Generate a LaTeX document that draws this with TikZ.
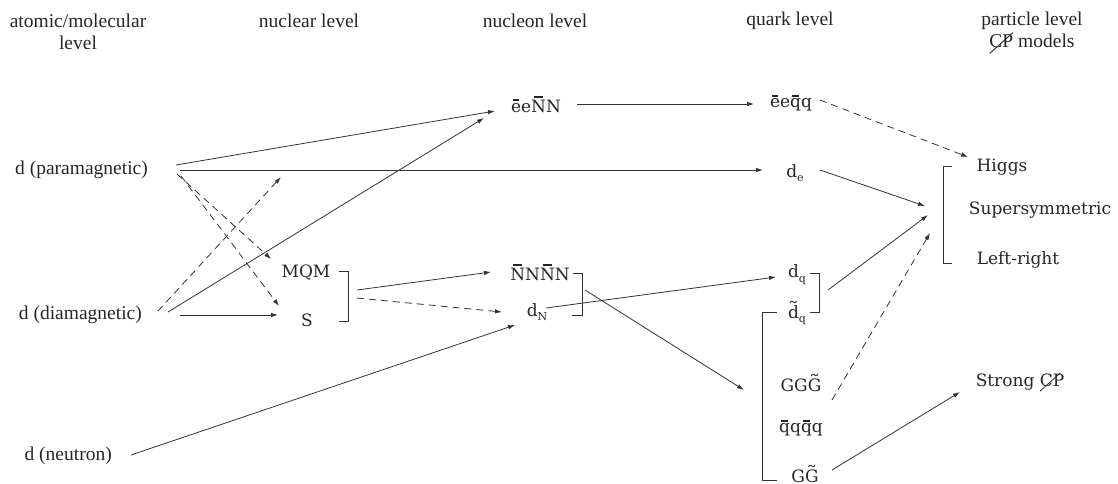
\documentclass[tikz,border=0pt]{standalone}
\usepackage{fontspec}
\setmainfont{Liberation Serif}
\newfontfamily\innerfont{DejaVu Serif}
\usetikzlibrary{arrows.meta}
\newcommand\ob[1]{\setbox0\hbox{#1}\makebox[0pt][l]{\hbox to\wd0{\hss\raisebox{\dimexpr\ht0+0.12em\relax}{\rule{0.6\wd0}{0.12em}}\hss}}\box0}
\newcommand\tl[1]{\setbox0\hbox{#1}\makebox[0pt][l]{\hbox to\wd0{\hss\raisebox{\dimexpr\ht0-1ex\relax}{\scalebox{1.3}[1]{\char"02DC}}\hss}}\box0}
\newcommand\sbs[1]{\raisebox{-0.28em}{\fontsize{11}{11}\selectfont #1}}
\newcommand\slcp{\makebox[0pt][l]{\raisebox{-0.3em}{\rotatebox{42}{\rule{1.6em}{0.045em}}}}CP}
\begin{document}
\begin{tikzpicture}[x=1pt,y=-1pt,
  hdr/.style={font=\fontsize{19.5}{22}\selectfont, inner sep=0pt, text=black!85},
  lbl/.style={font=\innerfont\fontsize{17}{20}\selectfont, inner sep=0pt, text=black!85},
  arr/.style={-{Latex[length=7pt,width=4.5pt]}, line width=0.8pt, draw=black!80},
  dsh/.style={arr, dash pattern=on 7pt off 5pt},
  brk/.style={line width=0.9pt, draw=black!80}]
\useasboundingbox (0,0) rectangle (1118,483);
% headers
\node[hdr] (hA1) at (78,21) {atomic/molecular};
\node[hdr] (hA2) at (78,43) {level};
\node[hdr] (hB) at (309,21) {nuclear level};
\node[hdr] (hC) at (535,21) {nucleon level};
\node[hdr] (hD) at (790,21) {quark level};
\node[hdr] (hE1) at (1032,21) {particle level};
\node[hdr] (hE2) at (1032,43) {\slcp{} models};
% left labels
\node[hdr, anchor=east] (para) at (148,170) {d (paramagnetic)};
\node[hdr, anchor=east] (dia) at (142,315) {d (diamagnetic)};
\node[hdr, anchor=east] (neu) at (112,456) {d (neutron)};
% nuclear
\node[lbl] (mqm) at (306,273) {MQM};
\node[lbl] (S) at (307,320) {S};
% nucleon
\node[lbl] (eeNN) at (536,104) {\ob{e}e\ob{N}N};
\node[lbl] (NNNN) at (540,272) {\ob{N}N\ob{N}N};
\node[lbl] (dN) at (537,312) {d\sbs{N}};
% quark
\node[lbl] (eeqq) at (791,103) {\ob{e}e\ob{q}q};
\node[lbl] (de) at (795,173) {d\sbs{e}};
\node[lbl] (dq) at (797,275) {d\sbs{q}};
\node[lbl] (dtq) at (797,313) {\tl{d}\sbs{q}};
\node[lbl] (GGG) at (801,383) {GG\tl{G}};
\node[lbl] (qqqq) at (801,428) {\ob{q}q\ob{q}q};
\node[lbl] (GG) at (805,474) {G\tl{G}};
% particle
\node[lbl] (higgs) at (1002,167) {Higgs};
\node[lbl] (susy) at (1040,210) {Supersymmetric};
\node[lbl] (lr) at (1018,260) {Left-right};
\node[lbl] (strong) at (1020,382) {Strong \slcp};
% brackets
\draw[brk] (339,271) -- (348,271) -- (348,321) -- (339,321);
\draw[brk] (573,273) -- (582,273) -- (582,315) -- (572,315);
\draw[brk] (810,273) -- (819,273) -- (819,312) -- (810,312);
\draw[brk] (777,312) -- (762,312) -- (762,480) -- (777,480);
\draw[brk] (952,166) -- (943,166) -- (943,263) -- (952,263);
% connector end points
\coordinate (a1s) at (176,165); \coordinate (a1e) at (495,111);
\coordinate (a2s) at (180,170); \coordinate (a2e) at (763,170);
\coordinate (a3s) at (177,174); \coordinate (a3e) at (271,259);
\coordinate (a4s) at (181,176); \coordinate (a4e) at (279,306);
\coordinate (a5s) at (158,311); \coordinate (a5e) at (281,177);
\coordinate (a6s) at (168,312); \coordinate (a6e) at (484,118);
\coordinate (a7s) at (180,315); \coordinate (a7e) at (278,315);
\coordinate (a8s) at (357,290); \coordinate (a8e) at (491,272);
\coordinate (a9s) at (357,298); \coordinate (a9e) at (502,312);
\coordinate (a10s) at (131,455); \coordinate (a10e) at (515,325);
\coordinate (a11s) at (577,104); \coordinate (a11e) at (754,104);
\coordinate (a12s) at (546,308); \coordinate (a12e) at (776,277);
\coordinate (a13s) at (585,290); \coordinate (a13e) at (744,390);
\coordinate (a14s) at (820,100); \coordinate (a14e) at (968,157);
\coordinate (a15s) at (820,170); \coordinate (a15e) at (925,206);
\coordinate (a16s) at (828,290); \coordinate (a16e) at (928,215);
\coordinate (a17s) at (832,400); \coordinate (a17e) at (930,233);
\coordinate (a18s) at (832,470); \coordinate (a18e) at (960,392);
% connectors
\draw[arr] (a1s) -- (a1e);
\draw[arr] (a2s) -- (a2e);
\draw[dsh] (a3s) -- (a3e);
\draw[dsh] (a4s) -- (a4e);
\draw[dsh] (a5s) -- (a5e);
\draw[arr] (a6s) -- (a6e);
\draw[arr] (a7s) -- (a7e);
\draw[arr] (a8s) -- (a8e);
\draw[dsh] (a9s) -- (a9e);
\draw[arr] (a10s) -- (a10e);
\draw[arr] (a11s) -- (a11e);
\draw[arr] (a12s) -- (a12e);
\draw[arr] (a13s) -- (a13e);
\draw[dsh] (a14s) -- (a14e);
\draw[arr] (a15s) -- (a15e);
\draw[arr] (a16s) -- (a16e);
\draw[dsh] (a17s) -- (a17e);
\draw[arr] (a18s) -- (a18e);
\end{tikzpicture}
\end{document}
